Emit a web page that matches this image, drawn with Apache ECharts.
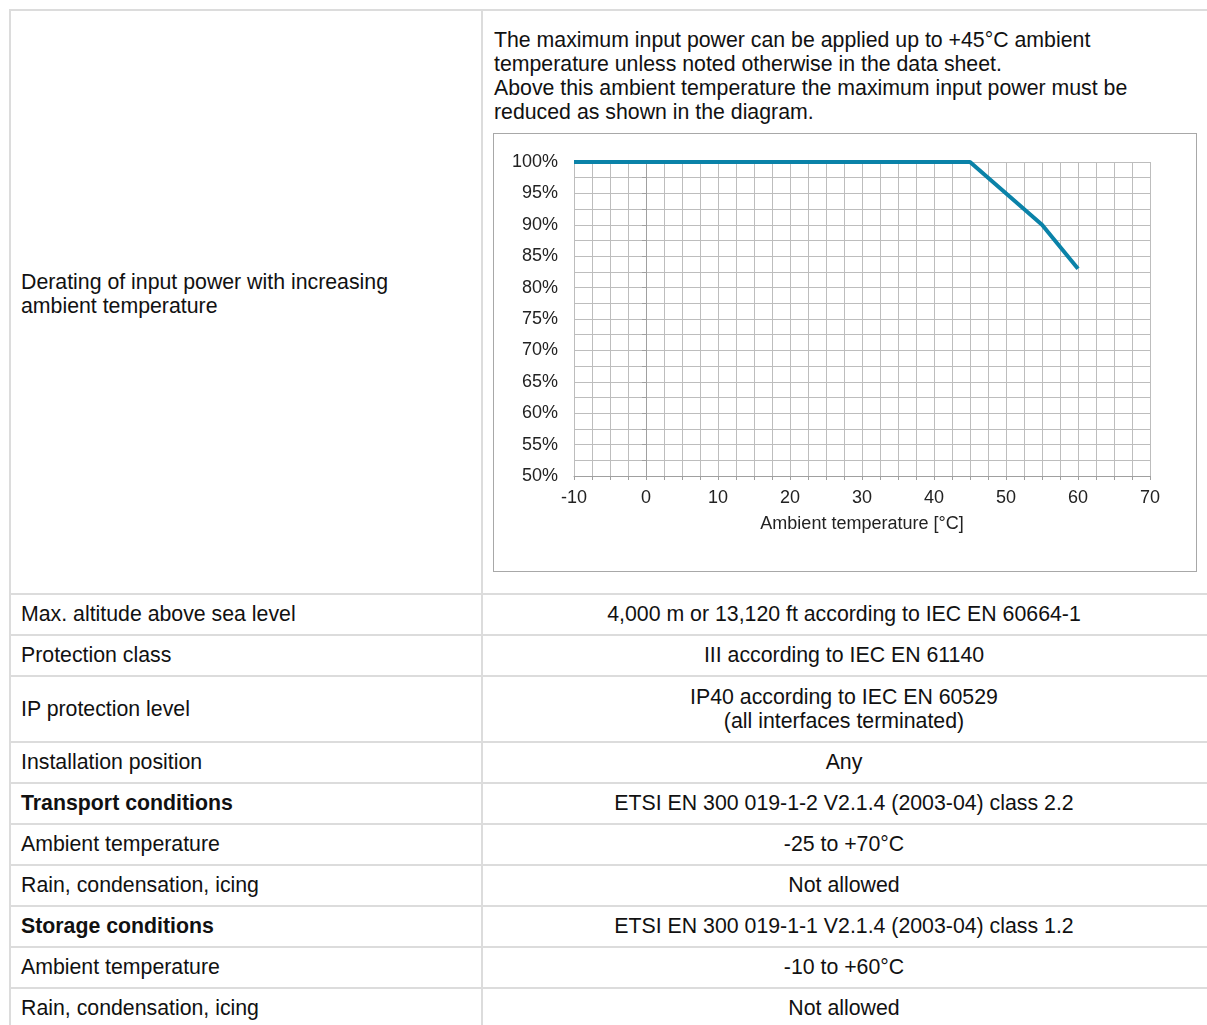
<!DOCTYPE html>
<html>
<head>
<meta charset="utf-8">
<script src="https://cdn.jsdelivr.net/npm/echarts@6/dist/echarts.min.js"></script>
<style>
  html, body { margin: 0; padding: 0; background: #fff; }
  body { width: 1207px; height: 1025px; position: relative; overflow: hidden;
         font-family: "Liberation Sans", Arial, sans-serif; color: #111; font-size: 21.3px; }
  .hl { position: absolute; height: 2px; background: #dcdcdc; left: 9px; width: 1210px; }
  .vl { position: absolute; width: 2px; background: #dcdcdc; }
  .cellL { position: absolute; left: 21px; width: 450px; display: flex; align-items: center; line-height: 24px; }
  .cellR { position: absolute; left: 482px; width: 724px; display: flex; align-items: center; justify-content: center; text-align: center; line-height: 24px; }
  #para { position: absolute; left: 494px; top: 28px; width: 700px; line-height: 24px; }
  #chart { position: absolute; left: 493px; top: 133px; width: 702px; height: 437px; border: 1.5px solid #a8a8a8; }
</style>
</head>
<body>
<div id="para"></div>
<div id="chart"></div>
<script>
// ---- chart data ----
const temperatures = [-10, 45, 55, 60];
const powerPercent = [100, 100, 90, 83];
const xTickLabels = [-10, 0, 10, 20, 30, 40, 50, 60, 70];
const yTickLabels = [50, 55, 60, 65, 70, 75, 80, 85, 90, 95, 100];
const xAxisTitle = 'Ambient temperature [°C]';

// ---- table text ----
const firstRowLabel = ['Derating of input power with increasing', 'ambient temperature'];
const paragraphLines = [
  'The maximum input power can be applied up to +45°C ambient',
  'temperature unless noted otherwise in the data sheet.',
  'Above this ambient temperature the maximum input power must be',
  'reduced as shown in the diagram.'
];
const rowLabels = ['Max. altitude above sea level', 'Protection class', 'IP protection level',
  'Installation position', 'Transport conditions', 'Ambient temperature', 'Rain, condensation, icing',
  'Storage conditions', 'Ambient temperature', 'Rain, condensation, icing'];
const rowValues = [
  ['4,000 m or 13,120 ft according to IEC EN 60664-1'],
  ['III according to IEC EN 61140'],
  ['IP40 according to IEC EN 60529', '(all interfaces terminated)'],
  ['Any'],
  ['ETSI EN 300 019-1-2 V2.1.4 (2003-04) class 2.2'],
  ['-25 to +70°C'],
  ['Not allowed'],
  ['ETSI EN 300 019-1-1 V2.1.4 (2003-04) class 1.2'],
  ['-10 to +60°C'],
  ['Not allowed']
];
const boldRows = [4, 7];

// ---- build table layout ----
const body = document.body;
function add(cls, style, html) {
  const d = document.createElement('div');
  d.className = cls;
  Object.assign(d.style, style);
  if (html !== undefined) d.innerHTML = html;
  body.appendChild(d);
  return d;
}
document.getElementById('para').innerHTML = paragraphLines.join('<br>');

const firstTop = 10, firstBottom = 593.5;
add('hl', { top: (firstTop - 1) + 'px' });
add('cellL', { top: firstTop + 'px', height: (firstBottom - firstTop - 16) + 'px' }, firstRowLabel.join('<br>'));
let y = firstBottom;
add('hl', { top: (y - 1) + 'px' });
rowLabels.forEach((lab, i) => {
  const h = rowValues[i].length > 1 ? 66 : 41;
  const txt = boldRows.includes(i) ? '<b>' + lab + '</b>' : lab;
  add('cellL', { top: y + 'px', height: h + 'px' }, txt);
  add('cellR', { top: y + 'px', height: h + 'px' }, rowValues[i].join('<br>'));
  y += h;
  add('hl', { top: (y - 1) + 'px' });
});
add('vl', { left: '9px', top: '9px', height: '1100px' });
add('vl', { left: '481px', top: '9px', height: '1100px' });

// ---- chart ----
const chart = echarts.init(document.getElementById('chart'), null, { renderer: 'canvas' });
const gridColor = '#bdbdbd';
chart.setOption({
  animation: false,
  grid: { left: 80, top: 28, width: 576, height: 314, containLabel: false },
  xAxis: {
    type: 'value', min: -10, max: 70, interval: 2.5,
    axisLine: { show: true, lineStyle: { color: '#a0a0a0', width: 1 } },
    axisTick: { show: true, length: 4, lineStyle: { color: '#a0a0a0' } },
    splitLine: { show: true, lineStyle: { color: gridColor, width: 1 } },
    axisLabel: {
      margin: 13, fontSize: 18, color: '#222', fontFamily: 'Liberation Sans',
      formatter: v => xTickLabels.includes(v) ? String(v) : ''
    },
    name: xAxisTitle, nameLocation: 'middle', nameGap: 39,
    nameTextStyle: { fontSize: 18, color: '#222', fontFamily: 'Liberation Sans' }
  },
  yAxis: {
    type: 'value', min: 50, max: 100, interval: 2.5,
    axisLine: { show: true, lineStyle: { color: '#a0a0a0', width: 1 } },
    axisTick: { show: true, length: 4, lineStyle: { color: '#a0a0a0' } },
    splitLine: { show: true, lineStyle: { color: gridColor, width: 1 } },
    axisLabel: {
      margin: 16, fontSize: 18, color: '#222', fontFamily: 'Liberation Sans',
      formatter: v => yTickLabels.includes(v) ? v + '%' : ''
    }
  },
  series: [{
    type: 'line',
    data: temperatures.map((t, i) => [t, powerPercent[i]]),
    showSymbol: false, symbol: 'none',
    lineStyle: { color: '#0a82a8', width: 4 },
    z: 5
  }]
});
</script>
</body>
</html>
